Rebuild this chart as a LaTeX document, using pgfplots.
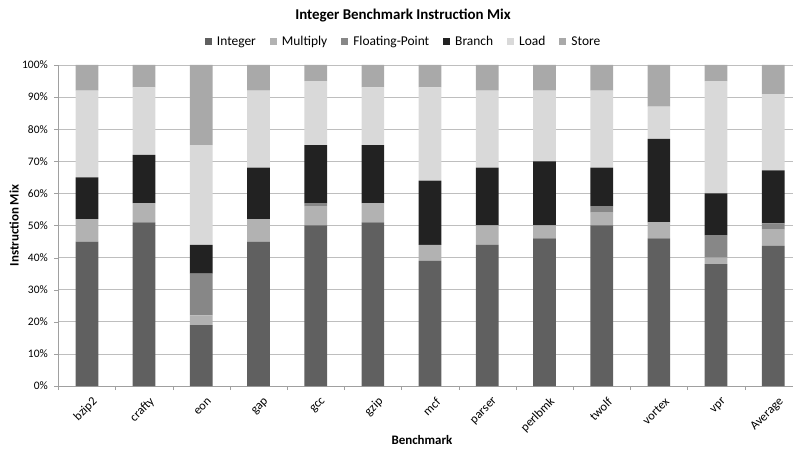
\documentclass[border=0pt]{standalone}
\usepackage{pgfplots}
\pgfplotsset{compat=1.18}
\usepackage{fontspec}
\setmainfont{Carlito}

\definecolor{cInt}{HTML}{606060}
\definecolor{cMul}{HTML}{B2B2B2}
\definecolor{cFP}{HTML}{878787}
\definecolor{cBr}{HTML}{222222}
\definecolor{cLd}{HTML}{D9D9D9}
\definecolor{cSt}{HTML}{A9A9A9}
\definecolor{cGrid}{HTML}{BEBEBE}
\definecolor{cAxis}{HTML}{A0A0A0}

\begin{document}
\begin{tikzpicture}
\useasboundingbox (-58.3bp,-63bp) rectangle (734.7bp,386bp);
\begin{axis}[
  at={(0bp,0bp)}, anchor=south west,
  scale only axis, width=734.7bp, height=321bp,
  ybar stacked, bar width=0.397,
  xmin=-0.5, xmax=12.345, ymin=0, ymax=100,
  axis line style={cAxis},
  axis x line*=bottom, axis y line*=left,
  xtick={0,...,12},
  xticklabels={bzip2,crafty,eon,gap,gcc,gzip,mcf,parser,perlbmk,twolf,vortex,vpr,Average},
  major x tick style={draw=none},
  minor xtick={-0.5,0.5,...,11.5},
  minor x tick style={cAxis},
  minor tick length=4bp,
  ytick={0,10,...,100},
  yticklabel={\pgfmathprintnumber{\tick}\%},
  /pgf/number format/assume math mode=true,
  y tick style={cAxis},
  major tick length=4bp,
  tick align=outside,
  ymajorgrids, major grid style={cGrid, line width=0.8pt},
  x tick label style={font=\fontsize{12.5}{14}\selectfont, rotate=45, anchor=east, inner sep=0pt, xshift=-1bp, yshift=-13bp},
  y tick label style={font=\fontsize{11.5}{13}\selectfont, xshift=-3bp},
  xlabel={Benchmark}, ylabel={Instruction Mix},
  label style={font=\fontsize{13}{15}\selectfont\bfseries},
  xlabel style={at={(0.495,-0.168)}, anchor=center},
  ylabel style={at={(-0.0603,0.5)}, anchor=center},
  legend columns=-1,
  legend style={draw=none, at={(0.47,1.0717)}, anchor=center,
    font=\fontsize{13.5}{15}\selectfont,
    /tikz/every odd column/.append style={column sep=3bp},
    /tikz/every even column/.append style={column sep=12bp}},
  legend image code/.code={\fill[#1] (0bp,-3.5bp) rectangle (7bp,3.5bp);},
  every axis plot/.append style={draw=none},
]
% Integer
\addplot[fill=cInt] coordinates {(0,45) (1,51) (2,19) (3,45) (4,50) (5,51) (6,39) (7,44) (8,46) (9,50) (10,46) (11,38) (12,43.67)};
% Multiply
\addplot[fill=cMul] coordinates {(0,7) (1,6) (2,3) (3,7) (4,6) (5,6) (6,5) (7,6) (8,4) (9,4) (10,5) (11,2) (12,5.08)};
% Floating-Point
\addplot[fill=cFP] coordinates {(0,0) (1,0) (2,13) (3,0) (4,1) (5,0) (6,0) (7,0) (8,0) (9,2) (10,0) (11,7) (12,1.92)};
% Branch
\addplot[fill=cBr] coordinates {(0,13) (1,15) (2,9) (3,16) (4,18) (5,18) (6,20) (7,18) (8,20) (9,12) (10,26) (11,13) (12,16.5)};
% Load
\addplot[fill=cLd] coordinates {(0,27) (1,21) (2,31) (3,24) (4,20) (5,18) (6,29) (7,24) (8,22) (9,24) (10,10) (11,35) (12,23.75)};
% Store
\addplot[fill=cSt] coordinates {(0,8) (1,7) (2,25) (3,8) (4,5) (5,7) (6,7) (7,8) (8,8) (9,8) (10,13) (11,5) (12,9.08)};
\legend{Integer,Multiply,Floating-Point,Branch,Load,Store}
\end{axis}
\node[font=\fontsize{15}{17}\selectfont\bfseries] at (344.7bp,370bp) {Integer Benchmark Instruction Mix};
\end{tikzpicture}
\end{document}
